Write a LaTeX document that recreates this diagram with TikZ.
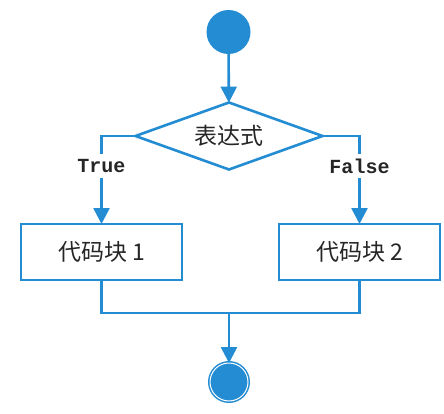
\documentclass[tikz,border=0pt]{standalone}
\usepackage{fontspec}
\newfontfamily\cjk{Noto Sans CJK SC}
\setmonofont{Liberation Mono}
\usetikzlibrary{shapes.geometric,arrows.meta}
\definecolor{flowblue}{RGB}{35,140,210}
\begin{document}
\begin{tikzpicture}[x = 1pt, y = 1pt, line width = 2.6pt, flowblue,
  every node/.append style={text = black!85, inner sep = 0pt, outer sep = 0pt},
  startnode/.style={circle, fill = flowblue, minimum size = 44pt},
  endnode/.style={circle, draw = flowblue, fill = flowblue, line width = 4pt, minimum size = 38pt, postaction={draw = white, line width = 1pt}},
  condnode/.style={diamond, draw, fill = white, aspect = 2.8, minimum width = 187pt, minimum height = 67pt, font = \cjk\fontsize{23}{27}\selectfont},
  codenode/.style={rectangle, draw, fill = white, minimum width = 161pt, minimum height = 56pt, font = \cjk\fontsize{23}{27}\selectfont},
  branchlabel/.style={fill = white, inner sep = 5pt, font = \ttfamily\bfseries\fontsize{20}{24}\selectfont},
  flowarrow/.style={-{Triangle[width = 16pt, length = 16pt]}}]

  \useasboundingbox (0, 0) rectangle (444, 413);

  \node[startnode] (start) at (228.5, 381) {};
  \node[condnode] (cond) at (229, 277) {表达式};

  \node[codenode] (code1) at (101.5, 161) {代码块 1};
  \node[codenode] (code2) at (359.5, 161) {代码块 2};

  \coordinate (merge) at (229, 100);
  \node[endnode] (end) at (229, 31) {};

  \draw[flowarrow] (start) -- (cond);
  \draw[flowarrow] (cond.west) -| (code1) node[branchlabel, pos = 0.67] (truelabel) {True};
  \draw[flowarrow] (cond.east) -| (code2) node[branchlabel, pos = 0.67] (falselabel) {False};

  \draw (code1) |- (merge) -| (code2);
  \draw[flowarrow] (merge) -- (end);

\end{tikzpicture}
\end{document}
